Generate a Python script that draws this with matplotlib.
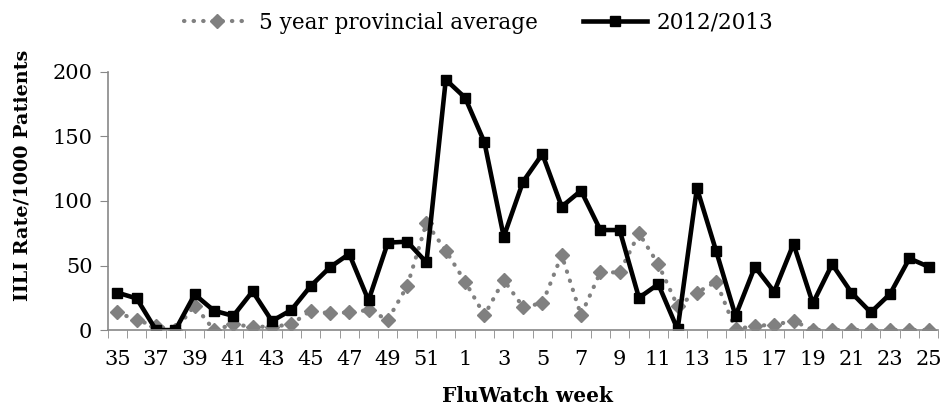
import matplotlib
matplotlib.use('Agg')
import matplotlib.pyplot as plt
from matplotlib.ticker import FixedLocator, NullFormatter

plt.rcParams['font.family'] = ['DejaVu Serif']

# FluWatch weeks 35..52 then 1..25
weeks = list(range(35, 53)) + list(range(1, 26))
tick_labels = [str(w) if i % 2 == 0 else '' for i, w in enumerate(weeks)]

avg_5yr = [13.7, 7.7, 3, 0, 19, 0, 4.4, 2.6, 2.6, 4.4, 15, 13, 13.7, 15.5, 8,
           34, 83, 61.5, 37.5, 11.6, 38.7, 18, 20.7, 58, 11.6, 44.7, 44.7, 75, 51,
           18.6, 29, 37.5, 0.5, 3.4, 4, 7.2, 0, 0, 0, 0, 0, 0, 0]
season_1213 = [29, 24.5, 0, 0, 27.6, 15, 11, 30, 7, 15.5, 34, 48.6, 59, 23, 67.7,
               68.5, 52.4, 194, 180, 145.5, 72.3, 115, 136.4, 95.6, 108, 77.5, 77.5,
               25, 35.6, 0.5, 110, 61, 11, 49, 29.7, 66.7, 20.7, 51, 29, 13.7, 28,
               55.5, 49]

x = list(range(len(weeks)))

fig = plt.figure(figsize=(9.45, 4.04), dpi=100)
ax = fig.add_axes([0.114, 0.183, 0.879, 0.639])

ax.plot(x, avg_5yr, color='#808080', linestyle=(0, (0.1, 2.2)), linewidth=3,
        dash_capstyle='round', marker='D', markersize=7.5,
        label='5 year provincial average')
ax.plot(x, season_1213, color='black', linewidth=3.3, marker='s', markersize=7,
        label='2012/2013')

ax.set_xlim(-0.5, len(weeks) - 0.5)
ax.set_ylim(0, 200)
ax.set_yticks([0, 50, 100, 150, 200])

ax.set_xticks(x)
ax.set_xticklabels(tick_labels)
ax.tick_params(axis='x', length=0, labelsize=15, pad=14)
ax.xaxis.set_minor_locator(FixedLocator([i - 0.5 for i in range(len(weeks) + 1)]))
ax.xaxis.set_minor_formatter(NullFormatter())
ax.tick_params(axis='x', which='minor', length=6, color='#888888', direction='out')
ax.tick_params(axis='y', length=6, color='#888888', labelsize=15, pad=5)

for s in ['top', 'right']:
    ax.spines[s].set_visible(False)
for s in ['left', 'bottom']:
    ax.spines[s].set_color('#888888')
    ax.spines[s].set_linewidth(1.2)

ax.set_xlabel('FluWatch week', fontsize=14.5, fontweight='bold')
ax.xaxis.set_label_coords(0.505, -0.215)
ax.set_ylabel('IILI Rate/1000 Patients', fontsize=13.8, fontweight='bold')
ax.yaxis.set_label_coords(-0.092, 0.599)

ax.legend(loc='center', bbox_to_anchor=(0.447, 1.19), ncol=2, frameon=False,
          fontsize=15.5, handlelength=3.0, handletextpad=0.45, columnspacing=2.1)

fig.savefig('out.png', dpi=100)
